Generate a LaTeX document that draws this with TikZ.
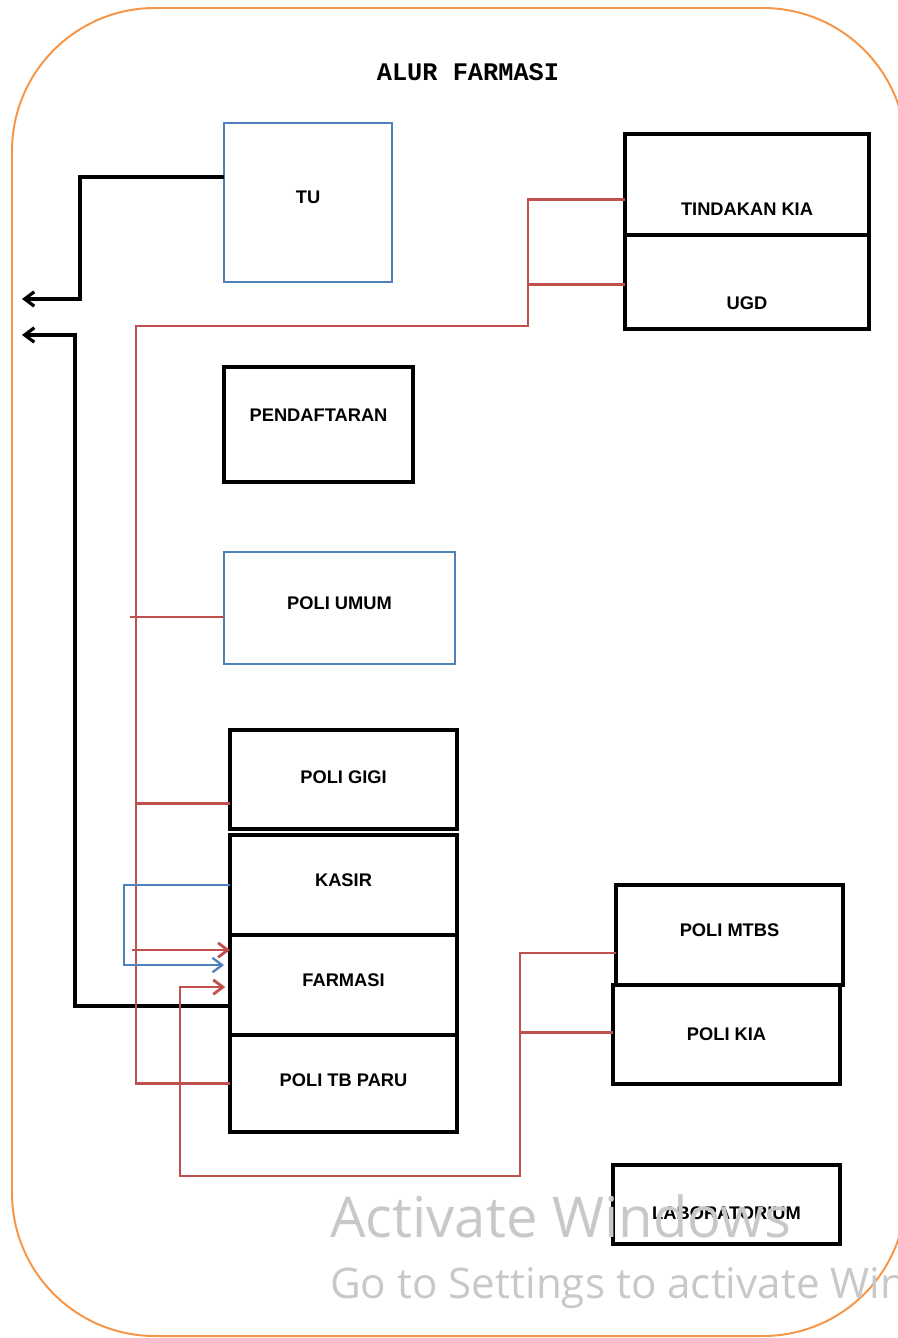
\documentclass[tikz,border=0pt]{standalone}
\usepackage{fontspec}
\usepackage{xcolor}
\usepackage{tikz}
\usetikzlibrary{arrows.meta,positioning,calc}
\newfontfamily\labelfont{Liberation Sans}
\newfontfamily\titlefont{Liberation Mono}
\newfontfamily\winfont{Open Sans}
\definecolor{frameorange}{HTML}{F79646}
\definecolor{officeblue}{HTML}{4F81BD}
\definecolor{officered}{HTML}{C0504D}
\definecolor{wmgray}{HTML}{C8C8C8}
\tikzset{
  box/.style       ={draw=black,line width=2.4pt,outer sep=0pt,inner sep=0pt,
                     font=\labelfont\bfseries\fontsize{13}{15}\selectfont,
                     minimum width=5.675cm,minimum height=2.5cm,anchor=north west},
  bluebox/.style   ={box,draw=officeblue,line width=2pt},
  outerframe/.style={draw=frameorange,line width=1.4pt,rounded corners=3.575cm},
  titletext/.style ={font=\titlefont\bfseries\fontsize{18}{20}\selectfont,inner sep=0pt},
  redlink/.style   ={draw=officered,line width=2pt},
  redin/.style     ={redlink,-{Straight Barb[length=2.4mm,width=3.6mm]}},
  bluein/.style    ={draw=officeblue,line width=1.6pt,-{Straight Barb[length=2.4mm,width=3.6mm]}},
  exitline/.style  ={draw=black,line width=2.3pt,-{Straight Barb[length=2.4mm,width=3.6mm]}},
  wintext/.style   ={text=wmgray,inner sep=0pt,anchor=base west}
}
\begin{document}
\begin{tikzpicture}[x=0.025cm,y=-0.025cm,node distance=0pt]
  \useasboundingbox (0,0) rectangle (898,1338);
  \draw[outerframe] (12,8) rectangle (906,1336);
  \node[titletext] (title) at (468,72) {ALUR FARMASI};

  % upper part
  \node[bluebox,minimum width=4.2cm,minimum height=3.975cm,text depth=7.8pt] (tu) at (224,123) {TU};
  \node[box,minimum width=6.1cm,minimum height=2.525cm,text height=44pt] (tkia) at (625,134) {TINDAKAN KIA};
  \node[box,minimum width=6.1cm,minimum height=2.35cm,text height=39pt,below=of tkia] (ugd) {UGD};
  \node[box,minimum width=4.725cm,minimum height=2.875cm,text depth=13.5pt] (pendaftaran) at (224,367) {PENDAFTARAN};
  \node[bluebox,minimum width=5.775cm,minimum height=2.8cm,text depth=7pt] (umum) at (224,552) {POLI UMUM};

  % left column
  \node[box,minimum height=2.475cm,text depth=3.5pt] (gigi) at (230,730) {POLI GIGI};
  \node[box,text depth=7pt,below=1.5mm of gigi] (kasir) {KASIR};
  \node[box,text depth=7pt,below=of kasir] (farmasi) {FARMASI};
  \node[box,minimum height=2.425cm,text depth=5pt,below=of farmasi] (tbparu) {POLI TB PARU};

  % right column
  \node[box,text depth=7pt] (mtbs) at (616,885) {POLI MTBS};
  \node[box,minimum height=2.475cm,below=of mtbs,xshift=-0.75mm] (kia) {POLI KIA};
  \node[box,minimum height=1.975cm,text height=21pt] (lab) at (613,1165) {LABORATORIUM};

  \coordinate (exit1) at (22,299);
  \coordinate (exit2) at (22,335);
  \coordinate (trunk) at (136,326);
  \coordinate (loop) at (180,1176);

  % black exits
  \draw[exitline] ($(tu.north west)!.34!(tu.south west)$) -- ++(-144,0) |- (exit1);
  \draw[exitline] ($(farmasi.north west)!.71!(farmasi.south west)$) -- ++(-155,0) |- (exit2);

  % red feeds
  \draw[redlink] ($(tkia.north west)!.65!(tkia.south west)$) -- ++(-97,0) |- (trunk) |- (tbparu.west);
  \draw[redlink] ($(ugd.north west)!.53!(ugd.south west)$) -- ++(-97,0);
  \draw[redlink] ($(umum.north west)!.58!(umum.south west)$) -- ++(-94,0);
  \draw[redlink] ($(gigi.north west)!.74!(gigi.south west)$) -- ++(-94,0);
  \draw[redin] ($(farmasi.north west)!.15!(farmasi.south west)$) ++(-98,0) -- ++(98,0);
  \draw[redin,shorten >=1.2mm] ($(mtbs.north west)!.68!(mtbs.south west)$) -- ++(-96,0) |- (loop)
    |- ($(farmasi.north west)!.52!(farmasi.south west)$);
  \draw[redlink] ($(kia.north west)!.48!(kia.south west)$) -- ++(-93,0);

  % kasir
  \draw[bluein,shorten >=1.5mm] (kasir.west) -- ++(-106,0) |- ($(farmasi.north west)!.3!(farmasi.south west)$);

  \node[wintext,font=\winfont\fontsize{40}{44}\selectfont] (activate) at (330,1237) {Activate Windows};
  \node[wintext,font=\winfont\fontsize{30}{34}\selectfont] (gosettings) at (330,1298) {Go to Settings to activate Windows.};
\end{tikzpicture}
\end{document}
